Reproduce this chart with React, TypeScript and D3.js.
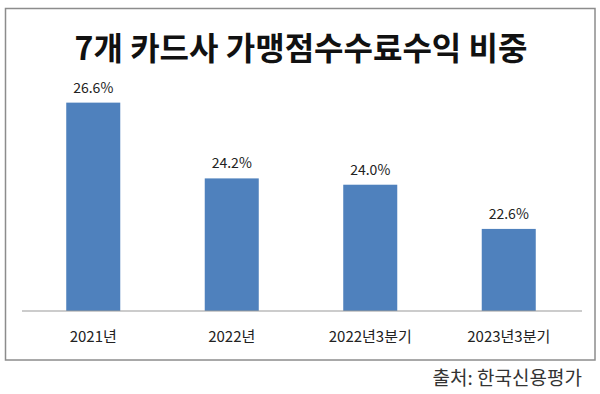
import React from "react";
import * as d3 from "d3";

const categories = ["2021년", "2022년", "2022년3분기", "2023년3분기"];
const values = [26.6, 24.2, 24.0, 22.6];
const valueLabels = ["26.6%", "24.2%", "24.0%", "22.6%"];
const title = "7개 카드사 가맹점수수료수익 비중";
const source = "출처: 한국신용평가";

const W = 600;
const H = 394;
const FONT = "'Noto Sans CJK KR', 'Noto Sans', sans-serif";

export default function App() {
  const x = d3
    .scaleBand<string>()
    .domain(categories)
    .range([24, 578])
    .paddingInner(0.61)
    .paddingOuter(0.305);
  const y = d3.scaleLinear().domain([20, 27]).range([311, 90]);

  return (
    <svg
      width={W}
      height={H}
      style={{ position: "absolute", left: 0, top: 0, background: "#fff" }}
    >
      <rect x={0} y={0} width={W} height={H} fill="#fff" />
      <rect x={5.5} y={8.5} width={589.5} height={351.5} fill="#fff" stroke="#8c8c8c" strokeWidth={1.5} />
      <text
        x={301}
        y={60}
        textAnchor="middle"
        fontFamily={FONT}
        fontWeight={700}
        fontSize={32}
        fill="#111"
      >
        {title}
      </text>
      {categories.map((c, i) => (
        <g key={c}>
          <rect
            x={x(c)}
            y={y(values[i])}
            width={x.bandwidth()}
            height={y(20) - y(values[i])}
            fill="#4f81bd"
          />
          <text
            x={(x(c) as number) + x.bandwidth() / 2}
            y={y(values[i]) - 10}
            textAnchor="middle"
            fontFamily={FONT}
            fontSize={14}
            fill="#222"
          >
            {valueLabels[i]}
          </text>
          <text
            x={(x(c) as number) + x.bandwidth() / 2}
            y={342}
            textAnchor="middle"
            fontFamily={FONT}
            fontSize={15}
            fill="#222"
          >
            {c}
          </text>
        </g>
      ))}
      <line x1={22} x2={582} y1={y(20)} y2={y(20)} stroke="#999" strokeWidth={1} />
      <text
        x={582}
        y={385}
        textAnchor="end"
        fontFamily={FONT}
        fontSize={19}
        fill="#333"
      >
        {source}
      </text>
    </svg>
  );
}
